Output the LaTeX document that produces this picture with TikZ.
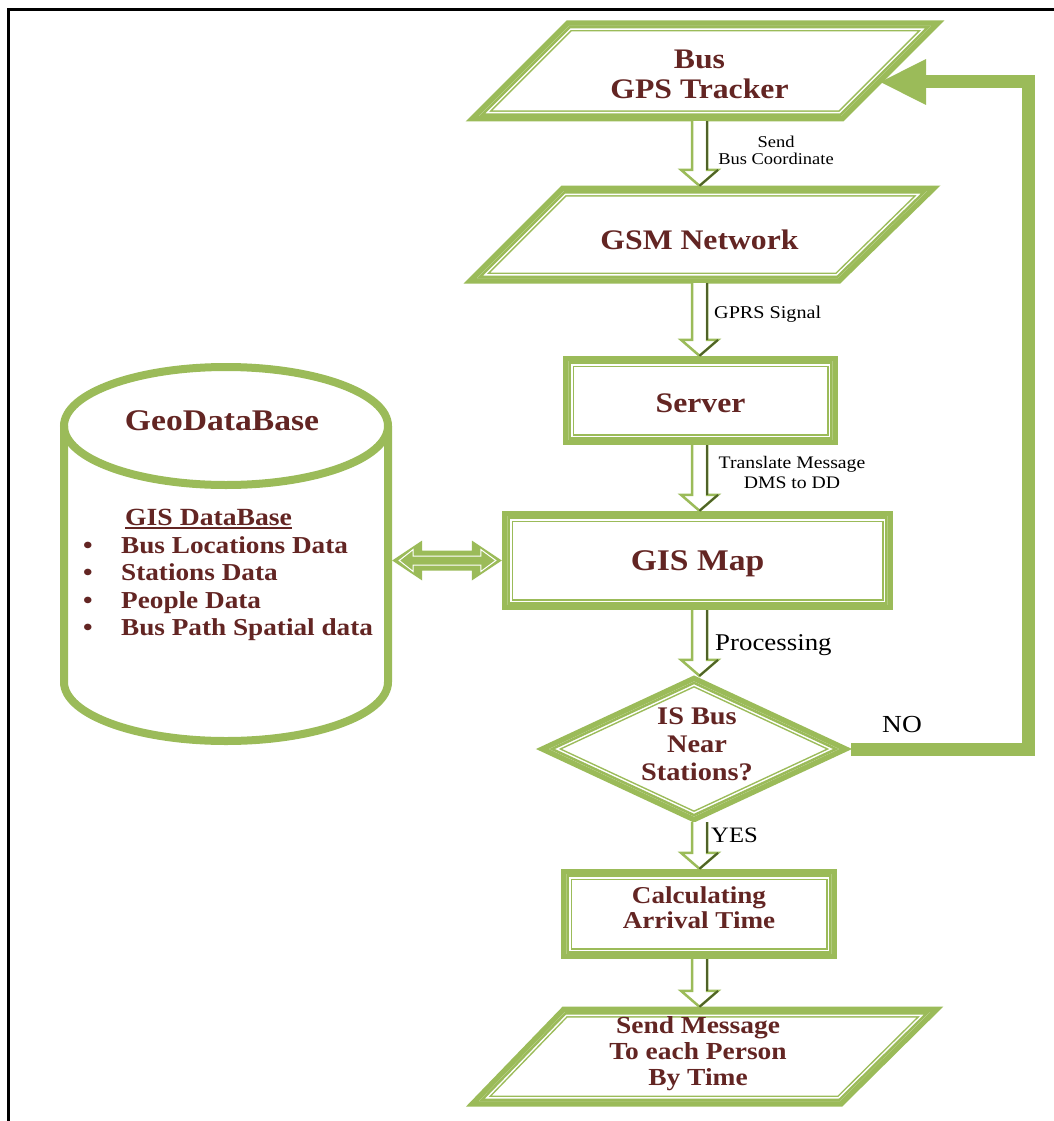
\documentclass[tikz,border=0pt]{standalone}
\usepackage{fontspec}
\setmainfont{Liberation Serif}[FakeStretch=1.12]
\usetikzlibrary{calc,arrows.meta}
\definecolor{gr}{HTML}{9BBB59}
\definecolor{dgr}{HTML}{4F6228}
\definecolor{tx}{HTML}{632523}
\newcommand\dblshape[1]{%
 \draw[gr,line width=11pt,line join=miter] #1;
 \begin{scope}\clip #1; \draw[white,line width=8pt,line join=miter] #1; \draw[gr,line width=5pt,line join=miter] #1; \end{scope}}
\newcommand\flowarrow[2]{%
 \filldraw[fill=white,draw=gr,line width=2.5pt,line join=miter] let \p1=(#1 -| ax), \p2=(#2 -| ax) in
 (\x1-7.5pt,\y1) -- (\x1-7.5pt,\y2+16pt) -- (\x1-18.5pt,\y2+16pt) -- (\x2,\y2) -- (\x1+18.5pt,\y2+16pt) -- (\x1+7.5pt,\y2+16pt) -- (\x1+7.5pt,\y1);
 \draw[dgr,line width=2pt] let \p1=(#1 -| ax), \p2=(#2 -| ax) in
 (\x1+7.5pt,\y1) -- (\x1+7.5pt,\y2+16pt) (\x1+18.5pt,\y2+16pt) -- (\x2,\y2);}
\newcommand\bigf{\fontsize{28.3}{30}\selectfont\bfseries}
\newcommand\midf[1]{\fontsize{#1}{1.1\dimexpr#1pt\relax}\selectfont\bfseries}
\tikzset{
 anch/.style={inner sep=0pt,text=tx,align=center},
 small/.style={inner sep=0pt,text=black,align=center},
 cylline/.style={gr,line width=8pt},
}
\begin{document}
\begin{tikzpicture}[x=1pt,y=-1pt]
\fill[white] (0,0) rectangle (1054,1121);
\useasboundingbox (0,0) rectangle (1054,1121);
\draw[line width=3pt] (8.5,1121) -- (8.5,9.5) -- (1054,9.5);
\coordinate (ax) at (699.5,0);

% shapes
\dblshape{(479,116)--(841,116)--(931,26)--(569,26)--cycle}
\dblshape{(477,278)--(838,278)--(927,191)--(564,191)--cycle}
\dblshape{(568.5,361.5)--(832.5,361.5)--(832.5,439.5)--(568.5,439.5)--cycle}
\dblshape{(507.5,516.5)--(887.5,516.5)--(887.5,604.5)--(507.5,604.5)--cycle}
\dblshape{(549,749)--(694,681.5)--(839,749)--(694,816.5)--cycle}
\dblshape{(566.5,874.5)--(831.5,874.5)--(831.5,953.5)--(566.5,953.5)--cycle}
\dblshape{(479,1101)--(840,1101)--(930,1012)--(565,1012)--cycle}

% cylinder
\draw[cylline] (226,426) ellipse [x radius=162,y radius=59];
\draw[cylline] (64,426) -- (64,682) arc[start angle=180,end angle=0,x radius=162,y radius=59] -- (388,426);

% shape anchor nodes
\node[anch,minimum width=300pt,minimum height=100pt] (gps) at (699.5,71) {};
\node[anch,minimum width=300pt,minimum height=97pt] (gsm) at (699.5,234.5) {};
\node[anch,minimum width=275pt,minimum height=89pt] (srv) at (700.5,400.5) {};
\node[anch,minimum width=391pt,minimum height=99pt] (gis) at (697.5,560.5) {};
\node[anch,minimum width=314pt,minimum height=146pt] (dia) at (694,749) {};
\node[anch,minimum width=276pt,minimum height=90pt] (calc) at (699,914) {};
\node[anch,minimum width=300pt,minimum height=99pt] (send) at (699.5,1056.5) {};
\node[anch,minimum width=332pt,minimum height=383pt] (cyl) at (226,553.5) {};

% texts
\node[anch,font=\bigf] (gpst) at (699.5,74) {Bus\\GPS Tracker};
\node[anch,font=\bigf] (gsmt) at (699.5,239.5) {GSM Network};
\node[anch,font=\bigf] (srvt) at (700.5,403.5) {Server};
\node[anch,font=\midf{30}] (gist) at (697.5,564) {GIS Map};
\node[anch,font=\fontsize{25.3}{28}\selectfont\bfseries] (diat) at (697,744) {IS Bus\\Near\\Stations?};
\node[anch,font=\fontsize{24.2}{25}\selectfont\bfseries] (calct) at (699,908) {Calculating\\Arrival Time};
\node[anch,font=\fontsize{24.5}{26}\selectfont\bfseries] (sendt) at (698,1054) {Send Message\\To each Person\\By Time};
\node[anch,font=\midf{30}] (geo) at (222,421) {GeoDataBase};
\node[anch,font=\fontsize{24.7}{27}\selectfont\bfseries,anchor=base west] (hdr) at (125,525) {GIS DataBase};
\draw[tx,line width=2pt] ($(hdr.base west)+(0,2.5)$) -- ($(hdr.base east)+(0,2.5)$);
\node[anch,anchor=west,font=\fontsize{24.3}{27.5}\selectfont\bfseries] (list) at (83,589) {%
\begin{tabular}{@{}p{38pt}@{}l@{}}
\textbullet & Bus Locations Data\\
\textbullet & Stations Data\\
\textbullet & People Data\\
\textbullet & Bus Path Spatial data
\end{tabular}};

% labels
\node[small,font=\fontsize{16.5}{17}\selectfont] (lb1) at (776,150) {Send\\Bus Coordinate};
\node[small,anchor=west,font=\fontsize{18}{20}\selectfont] (lb2) at (714,314) {GPRS Signal};
\node[small,font=\fontsize{17.6}{20}\selectfont] (lb3) at (792,472) {Translate Message\\DMS to DD};
\node[small,anchor=west,font=\fontsize{24}{26}\selectfont] (lb4) at (715,645) {Processing};
\node[small,font=\fontsize{24.5}{26}\selectfont] (lb5) at (902,725) {NO};
\node[small,anchor=west,font=\fontsize{22}{24}\selectfont] (lb6) at (711,835) {YES};

% flow arrows
\flowarrow{gps.south}{gsm.north}
\flowarrow{gsm.south}{srv.north}
\flowarrow{srv.south}{gis.north}
\flowarrow{gis.south}{dia.north}
\flowarrow{dia.south}{calc.north}
\flowarrow{calc.south}{send.north}

% double arrow
\fill[gr] let \p1=(cyl.east), \p2=(gis.west) in
 (\x1,\y2) -- (\x1+30pt,\y2+20pt) -- (\x1+30pt,\y2+10pt) -- (\x2-30pt,\y2+10pt) -- (\x2-30pt,\y2+20pt) -- (\x2,\y2)
 -- (\x2-30pt,\y2-20pt) -- (\x2-30pt,\y2-10pt) -- (\x1+30pt,\y2-10pt) -- (\x1+30pt,\y2-20pt) -- cycle;
\draw[white,line width=1pt] let \p1=(cyl.east), \p2=(gis.west) in
 (\x1+7pt,\y2) -- (\x1+21pt,\y2+11pt) -- (\x1+21pt,\y2+4.5pt) -- (\x2-21pt,\y2+4.5pt) -- (\x2-21pt,\y2+11pt) -- (\x2-6pt,\y2)
 -- (\x2-21pt,\y2-11pt) -- (\x2-21pt,\y2-4.5pt) -- (\x1+21pt,\y2-4.5pt) -- (\x1+21pt,\y2-11pt) -- cycle;

% NO loop
\coordinate (gpsin) at (879,82);
\draw[gr,line width=13pt,line join=miter,-{Triangle[length=47pt,width=42pt]}] (dia.east) -- (1028,749) -- (1028,82) -- (gpsin);
\end{tikzpicture}
\end{document}
